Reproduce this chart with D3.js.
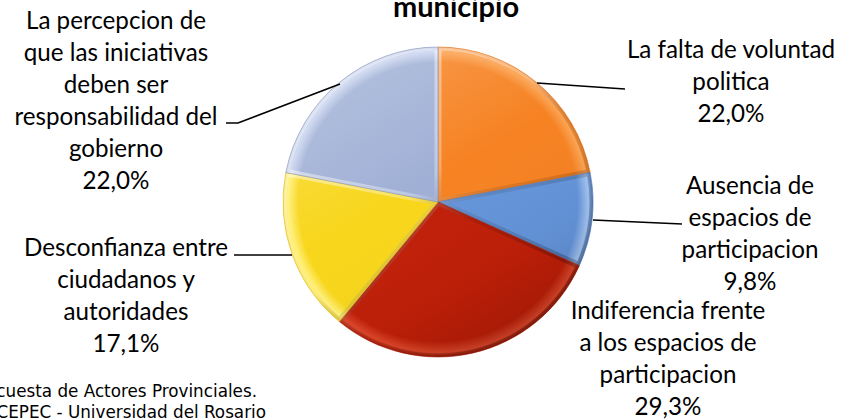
<!DOCTYPE html>
<html>
<head>
<meta charset="utf-8">
<script src="https://cdn.jsdelivr.net/npm/d3@7"></script>
<style>
  html, body { margin: 0; padding: 0; background: #ffffff; }
  svg { display: block; }
</style>
</head>
<body>
<svg id="chart" width="843" height="419"></svg>
<script>
// ---------- DATA ----------
const titleText = "municipio";
const categories = [
  "La falta de voluntad politica",
  "Ausencia de espacios de participacion",
  "Indiferencia frente a los espacios de participacion",
  "Desconfianza entre ciudadanos y autoridades",
  "La percepcion de que las iniciativas deben ser responsabilidad del gobierno"
];
const categoryLines = [
  ["La falta de voluntad", "politica"],
  ["Ausencia de", "espacios de", "participacion"],
  ["Indiferencia frente", "a los espacios de", "participacion"],
  ["Desconfianza entre", "ciudadanos y", "autoridades"],
  ["La percepcion de", "que las iniciativas", "deben ser", "responsabilidad del", "gobierno"]
];
const values = [22.0, 9.8, 29.3, 17.1, 22.0];
const sourceLines = ["Encuesta de Actores Provinciales.", "CEPEC - Universidad del Rosario"];

// ---------- STYLE / LAYOUT ----------
const palette = [
  { base: "#F68222", dark: "#DC6A12", light: "#FBA352" },
  { base: "#6494DA", dark: "#4B76BE", light: "#A3C4F2" },
  { base: "#C01F08", dark: "#9E1604", light: "#E0472A" },
  { base: "#F8D61B", dark: "#DDB60A", light: "#FFF17C" },
  { base: "#9FAFD5", dark: "#7F8FB9", light: "#CAD5EF" }
];
const cx = 438, cy = 202, R = 155;
const lineH = 32;
const labelFont = "Lato, 'Open Sans', sans-serif";
const labelSize = 24.2;
// label anchor (center x, first baseline y)
const labelPos = [
  { x: 731, y: 58 },
  { x: 750, y: 194 },
  { x: 668, y: 319 },
  { x: 126, y: 256 },
  { x: 116, y: 29 }
];
// leader lines (point on pie edge -> label side)
const leaders = [
  [[537, 83], [625, 89]],
  [[593, 220], [682, 224]],
  null,
  [[292, 255], [234, 255]],
  [[340, 84], [238, 123], [226, 123]]
];

const svg = d3.select("#chart");
const defs = svg.append("defs");

const fmt = v => d3.format(".1f")(v).replace(".", ",") + "%";

// per-slice radial fill
palette.forEach((p, i) => {
  const g = defs.append("radialGradient")
    .attr("id", "grad" + i)
    .attr("gradientUnits", "userSpaceOnUse")
    .attr("cx", 0).attr("cy", 0).attr("r", R);
  g.append("stop").attr("offset", "0%").attr("stop-color", p.base);
  g.append("stop").attr("offset", "90%").attr("stop-color", p.base);
  g.append("stop").attr("offset", "97%").attr("stop-color", p.light);
  g.append("stop").attr("offset", "100%").attr("stop-color", p.base);
});

// lighting overlay (light from top-left)
const shade = defs.append("linearGradient")
  .attr("id", "shade")
  .attr("gradientUnits", "userSpaceOnUse")
  .attr("x1", -R * 0.6).attr("y1", -R).attr("x2", R * 0.6).attr("y2", R);
shade.append("stop").attr("offset", "0%").attr("stop-color", "#ffffff").attr("stop-opacity", 0.22);
shade.append("stop").attr("offset", "45%").attr("stop-color", "#ffffff").attr("stop-opacity", 0);
shade.append("stop").attr("offset", "75%").attr("stop-color", "#000000").attr("stop-opacity", 0.04);
shade.append("stop").attr("offset", "100%").attr("stop-color", "#000000").attr("stop-opacity", 0.18);

// bevel stroke gradient
const bevel = defs.append("linearGradient")
  .attr("id", "bevel")
  .attr("gradientUnits", "userSpaceOnUse")
  .attr("x1", -R).attr("y1", -R).attr("x2", R).attr("y2", R);
bevel.append("stop").attr("offset", "0%").attr("stop-color", "#ffffff").attr("stop-opacity", 0.6);
bevel.append("stop").attr("offset", "45%").attr("stop-color", "#ffffff").attr("stop-opacity", 0.3);
bevel.append("stop").attr("offset", "60%").attr("stop-color", "#000000").attr("stop-opacity", 0.1);
bevel.append("stop").attr("offset", "100%").attr("stop-color", "#000000").attr("stop-opacity", 0.35);

const pie = d3.pie().sort(null).value(d => d);
const arcs = pie(values);
const arc = d3.arc().innerRadius(0).outerRadius(R);

arcs.forEach((d, i) => {
  defs.append("clipPath").attr("id", "clip" + i)
    .append("path").attr("d", arc(d));
});

const g = svg.append("g").attr("transform", `translate(${cx},${cy})`);

const slices = g.selectAll("g.slice")
  .data(arcs)
  .join("g")
  .attr("class", "slice");

slices.append("path")
  .attr("d", arc)
  .attr("fill", (d, i) => `url(#grad${i})`);

slices.append("path")
  .attr("d", arc)
  .attr("fill", "url(#shade)");

slices.append("path")
  .attr("d", arc)
  .attr("clip-path", (d, i) => `url(#clip${i})`)
  .attr("fill", "none")
  .attr("stroke", "url(#bevel)")
  .attr("stroke-width", 7)
  .attr("stroke-linejoin", "round");

slices.append("path")
  .attr("d", arc)
  .attr("fill", "none")
  .attr("stroke", (d, i) => palette[i].dark)
  .attr("stroke-opacity", 0.7)
  .attr("stroke-width", 0.8);

// leader lines
const line = d3.line();
svg.selectAll("path.leader")
  .data(leaders.filter(d => d))
  .join("path")
  .attr("class", "leader")
  .attr("d", line)
  .attr("fill", "none")
  .attr("stroke", "#000")
  .attr("stroke-width", 1.6);

// labels
categoryLines.forEach((lines, i) => {
  const all = lines.concat([fmt(values[i])]);
  const t = svg.append("text")
    .attr("text-anchor", "middle")
    .attr("font-family", labelFont)
    .attr("font-size", labelSize)
    .attr("fill", "#000");
  all.forEach((s, k) => {
    t.append("tspan")
      .attr("x", labelPos[i].x)
      .attr("y", labelPos[i].y + k * lineH)
      .text(s);
  });
});

// title
svg.append("text")
  .attr("x", 456).attr("y", 17)
  .attr("text-anchor", "middle")
  .attr("font-family", "Lato, 'Open Sans', sans-serif")
  .attr("font-weight", "bold")
  .attr("font-size", 29)
  .attr("fill", "#000")
  .text(titleText);

// source
const src = svg.append("text")
  .attr("text-anchor", "end")
  .attr("font-family", "'DejaVu Sans', Verdana, sans-serif")
  .attr("font-size", 16.8)
  .attr("fill", "#000");
src.append("tspan").attr("x", 257).attr("y", 397).text(sourceLines[0]);
src.append("tspan").attr("x", 266).attr("y", 418).text(sourceLines[1]);
</script>
</body>
</html>
